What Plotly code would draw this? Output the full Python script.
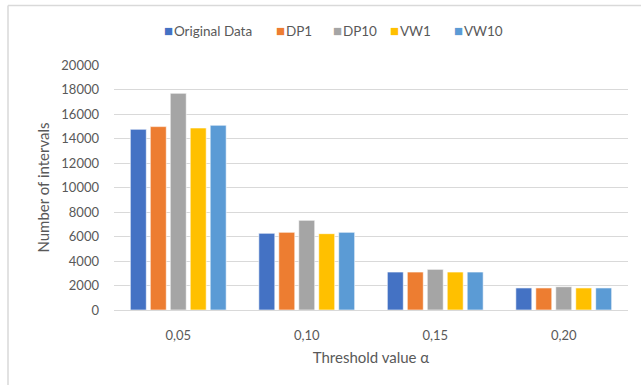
import plotly.graph_objects as go

categories = ["0,05", "0,10", "0,15", "0,20"]
original_data = [14750, 6260, 3100, 1800]
dp1 = [14970, 6340, 3100, 1800]
dp10 = [17690, 7320, 3320, 1900]
vw1 = [14860, 6230, 3100, 1800]
vw10 = [15080, 6340, 3100, 1800]

series_names = ["Original Data", "DP1", "DP10", "VW1", "VW10"]
series_values = [original_data, dp1, dp10, vw1, vw10]
series_colors = ["#4472C4", "#ED7D31", "#A5A5A5", "#FFC000", "#5B9BD5"]
# left edge (px) of each legend entry along the top of the chart
legend_px = [162, 274, 331, 388, 452]

font_family = "Lato, 'Open Sans', sans-serif"
text_color = "#595959"

ML, MR, MT, MB = 114, 13, 65, 75
W, H = 641, 385
PW, PH = W - ML - MR, H - MT - MB

fig = go.Figure()
for name, values, color in zip(series_names, series_values, series_colors):
    fig.add_trace(go.Bar(
        name=name, x=categories, y=values,
        marker=dict(color=color, line=dict(color="rgba(255,255,255,0.6)", width=1)),
    ))

# compact legend row: coloured square + series name
annotations = []
for name, color, px in zip(series_names, series_colors, legend_px):
    annotations.append(dict(
        xref="paper", yref="paper", x=(px - ML) / PW, y=1 + (MT - 30) / PH,
        xanchor="left", yanchor="middle", showarrow=False,
        text=f"<span style='color:{color};font-size:15px'>■</span>\u200a{name}",
        font=dict(size=13.5, color=text_color, family=font_family),
    ))

left_x = (8 - ML) / PW
top_y = 1 + (MT - 5.5) / PH

fig.update_layout(
    width=W, height=H,
    margin=dict(l=ML, r=MR, t=MT, b=MB),
    paper_bgcolor="white", plot_bgcolor="white",
    barmode="group", bargap=0.223, bargroupgap=0.2,
    font=dict(family=font_family, size=13, color=text_color),
    showlegend=False,
    annotations=annotations,
    xaxis=dict(
        showgrid=False, showline=True, linecolor="#D9D9D9", linewidth=1,
        ticks="", ticklabelstandoff=13, tickfont=dict(size=13, color=text_color),
        title=dict(text="Threshold value α", font=dict(size=15, color=text_color), standoff=10),
    ),
    yaxis=dict(
        range=[0, 20000], dtick=2000, tickformat="d", showgrid=True,
        gridcolor="#D9D9D9", gridwidth=1,
        zeroline=False, showline=False, ticks="", ticklabelstandoff=14,
        tickfont=dict(size=13, color=text_color),
        title=dict(text="Number of intervals", font=dict(size=15, color=text_color), standoff=8),
    ),
    shapes=[
        dict(type="line", xref="paper", yref="paper", x0=left_x, x1=1.1,
             y0=top_y, y1=top_y, line=dict(color="#D9D9D9", width=1.5)),
        dict(type="line", xref="paper", yref="paper", x0=left_x, x1=left_x,
             y0=-0.5, y1=top_y, line=dict(color="#D9D9D9", width=1.5)),
    ],
)

fig.write_html("out.html")
